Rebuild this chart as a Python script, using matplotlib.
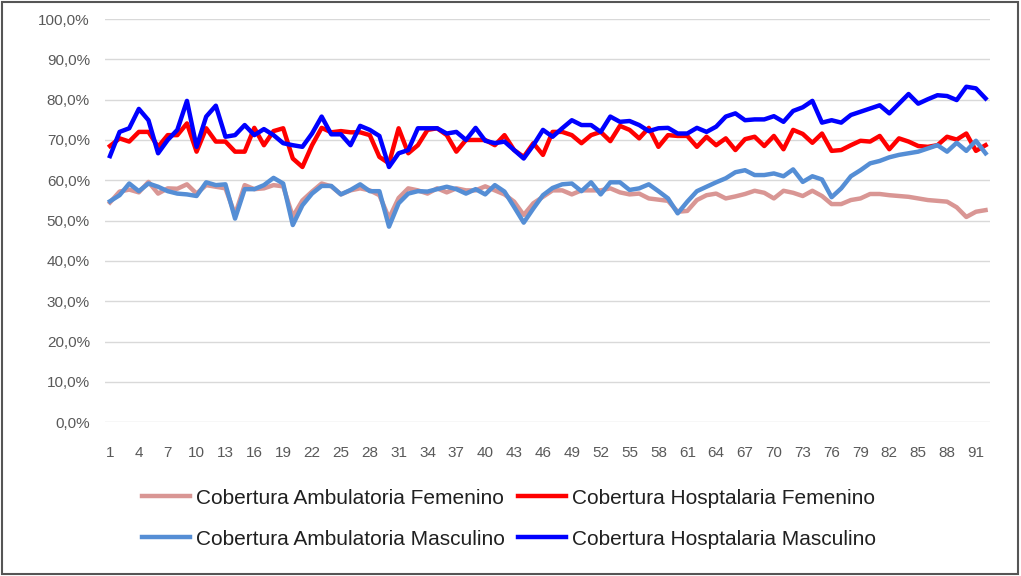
import matplotlib.pyplot as plt
from matplotlib.patches import Rectangle
from matplotlib.ticker import FuncFormatter

# ---- data ----
periodos = list(range(1, 93))

amb_fem = [54.5, 57.2, 57.7, 57.0, 59.6, 56.7, 58.0, 57.9, 59.0, 56.7,
           58.8, 58.4, 58.0, 51.5, 58.8, 57.8, 58.0, 58.8, 58.5, 51.0,
           55.0, 57.2, 59.2, 58.5, 56.5, 57.5, 58.0, 57.5, 56.3, 50.6,
           55.6, 58.0, 57.5, 56.7, 58.0, 57.0, 58.0, 57.5, 57.5, 58.5,
           57.5, 56.5, 54.7, 51.4, 54.3, 55.9, 57.5, 57.5, 56.5, 57.5,
           57.5, 57.5, 58.0, 57.0, 56.5, 56.7, 55.5, 55.2, 54.9, 52.2,
           52.4, 55.1, 56.3, 56.7, 55.5, 56.0, 56.6, 57.4, 56.9, 55.5,
           57.4, 56.9, 56.1, 57.4, 56.1, 54.1, 54.1, 55.1, 55.5, 56.6,
           56.6, 56.3, 56.1, 55.9, 55.5, 55.1, 54.9, 54.7, 53.3, 50.9,
           52.2, 52.6]

hosp_fem = [68.5, 70.4, 69.6, 72.0, 72.0, 68.3, 71.2, 71.2, 74.1, 67.1,
            72.9, 69.6, 69.6, 67.1, 67.1, 73.0, 68.7, 72.2, 72.9, 65.4,
            63.3, 68.7, 73.0, 71.9, 72.2, 71.9, 71.9, 71.2, 65.8, 64.2,
            72.9, 66.7, 68.7, 72.5, 72.9, 71.2, 67.1, 70.0, 70.0, 70.0,
            68.7, 71.2, 67.5, 65.8, 69.2, 66.3, 72.0, 72.0, 71.2, 69.2,
            71.2, 72.0, 69.7, 73.5, 72.5, 70.4, 73.0, 68.3, 71.2, 71.0,
            71.0, 68.3, 70.8, 68.7, 70.4, 67.5, 70.2, 70.8, 68.5, 71.0,
            67.7, 72.5, 71.5, 69.3, 71.6, 67.3, 67.5, 68.7, 69.8, 69.6,
            71.0, 67.7, 70.4, 69.6, 68.5, 68.3, 68.7, 70.8, 70.1, 71.6,
            67.3, 68.7]

amb_masc = [54.8, 56.3, 59.2, 57.3, 59.2, 58.4, 57.3, 56.7, 56.5, 56.1,
            59.5, 58.8, 59.0, 50.5, 57.8, 57.8, 58.8, 60.6, 59.2, 48.9,
            53.8, 56.7, 58.6, 58.6, 56.5, 57.6, 59.0, 57.3, 57.3, 48.5,
            54.3, 56.7, 57.3, 57.2, 57.8, 58.4, 57.8, 56.7, 57.8, 56.5,
            58.8, 57.2, 53.4, 49.5, 53.0, 56.3, 58.1, 59.0, 59.2, 57.3,
            59.5, 56.5, 59.5, 59.5, 57.6, 58.0, 59.0, 57.3, 55.5, 51.8,
            54.7, 57.3, 58.4, 59.5, 60.5, 62.0, 62.5, 61.3, 61.3, 61.7,
            61.0, 62.7, 59.6, 61.0, 60.2, 55.8, 58.0, 61.0, 62.5, 64.2,
            64.8, 65.7, 66.3, 66.7, 67.1, 67.9, 68.7, 67.1, 69.3, 67.3,
            69.8, 66.7]

hosp_masc = [66.0, 72.0, 72.9, 77.7, 74.9, 66.7, 70.0, 72.5, 79.7, 68.3,
             75.8, 78.5, 70.8, 71.2, 73.7, 71.2, 72.7, 71.2, 69.2, 68.7,
             68.3, 71.6, 75.8, 71.4, 71.4, 68.7, 73.5, 72.5, 71.0, 63.3,
             66.7, 67.5, 72.9, 72.9, 72.9, 71.6, 72.0, 70.0, 73.0, 69.8,
             69.2, 69.6, 67.5, 65.4, 68.7, 72.5, 70.8, 72.9, 74.9, 73.7,
             73.7, 72.0, 75.8, 74.5, 74.7, 73.7, 72.2, 72.9, 73.0, 71.6,
             71.6, 73.0, 72.0, 73.3, 75.8, 76.6, 74.9, 75.1, 75.1, 75.9,
             74.5, 77.2, 78.1, 79.7, 74.3, 74.9, 74.3, 76.2, 77.0, 77.8,
             78.6, 76.6, 79.0, 81.4, 79.0, 80.1, 81.1, 80.9, 79.9, 83.2,
             82.8, 80.3]

series = [
    ("Cobertura Ambulatoria Femenino", amb_fem, "#D99694"),
    ("Cobertura Hosptalaria Femenino", hosp_fem, "#FF0000"),
    ("Cobertura Ambulatoria Masculino", amb_masc, "#558ED5"),
    ("Cobertura Hosptalaria Masculino", hosp_masc, "#0000FF"),
]

plt.rcParams["font.family"] = ["Liberation Sans", "DejaVu Sans"]

fig = plt.figure(figsize=(10.21, 5.76), dpi=100)
ax = fig.add_axes([0.103, 0.267, 0.867, 0.700])

lines = {}
for name, vals, color in series:
    (ln,) = ax.plot(periodos, vals, color=color, lw=3.2, label=name,
                    solid_joinstyle="round")
    lines[name] = ln

ax.set_xlim(0.5, 92.5)
ax.set_ylim(0, 100)
ax.set_yticks(range(0, 101, 10))
ax.yaxis.set_major_formatter(FuncFormatter(lambda v, _: f"{v:.1f}%".replace(".", ",")))
ax.set_xticks(periodos[::3])
ax.grid(axis="y", color="#D9D9D9", lw=1)
ax.set_axisbelow(True)
for s in ax.spines.values():
    s.set_visible(False)
ax.tick_params(length=0, labelsize=11, colors="#595959")
ax.tick_params(axis="y", pad=11)
ax.tick_params(axis="x", pad=17)

order = ["Cobertura Ambulatoria Femenino", "Cobertura Ambulatoria Masculino",
         "Cobertura Hosptalaria Femenino", "Cobertura Hosptalaria Masculino"]
fig.legend([lines[n] for n in order], order, loc="upper left",
           bbox_to_anchor=(0.131, 0.166), ncol=2, frameon=False,
           fontsize=15, handlelength=2.3, handletextpad=0.3,
           columnspacing=0.6, labelspacing=1.05, labelcolor="#202020",
           borderaxespad=0)

fig.patches.append(Rectangle((0.002, 0.003), 0.995, 0.993, transform=fig.transFigure,
                             fill=False, edgecolor="#555555", lw=1.5))

fig.savefig("out.png", dpi=100)
